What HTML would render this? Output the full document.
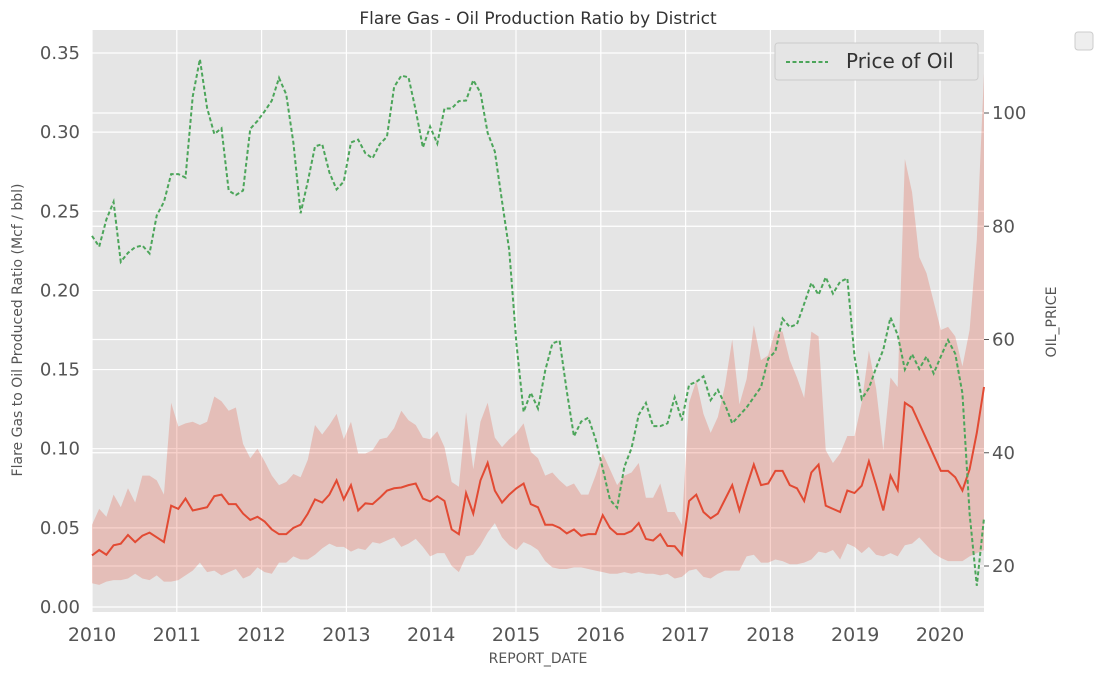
<!DOCTYPE html>
<html><head><meta charset="utf-8"><style>
body{margin:0;background:#fff;}
svg{display:block;font-family:"DejaVu Sans","Liberation Sans",sans-serif;}
</style></head><body>
<svg id="chart" width="1101" height="677"></svg>
<script>
const months = 125;
const yearTicks = ["2010","2011","2012","2013","2014","2015","2016","2017","2018","2019","2020"];
const leftTicks = [0,0.05,0.10,0.15,0.20,0.25,0.30,0.35];
const leftTickLabels = ["0.00","0.05","0.10","0.15","0.20","0.25","0.30","0.35"];
const rightTicks = [20,40,60,80,100];
const ratioMean = [.0326,.036,.033,.039,.040,.0455,.041,.045,.047,.044,.041,.064,
.062,.0685,.061,.062,.063,.070,.071,.065,.065,.059,.055,.057,
.054,.049,.046,.046,.050,.052,.059,.068,.066,.071,.080,.068,
.077,.061,.0655,.065,.069,.0735,.075,.0755,.077,.078,.0685,.0667,
.070,.067,.049,.046,.072,.059,.080,.091,.0735,.066,.071,.075,
.078,.065,.063,.052,.052,.050,.0465,.049,.045,.046,.046,.058,
.050,.046,.046,.048,.053,.043,.042,.046,.0386,.0384,.033,.067,
.071,.060,.056,.059,.068,.077,.061,.076,.090,.077,.078,.086,
.086,.077,.075,.067,.085,.090,.064,.062,.060,.0736,.072,.0766,
.092,.077,.061,.083,.074,.129,.126,.116,.106,.096,.086,.086,
.082,.0736,.087,.110,.139];
const ratioUpper = [.052,.062,.057,.071,.063,.075,.066,.083,.083,.080,.071,.129,
.114,.116,.117,.115,.117,.133,.130,.124,.126,.103,.094,.100,
.092,.083,.077,.079,.084,.082,.093,.115,.109,.115,.122,.106,
.117,.097,.097,.099,.106,.107,.113,.124,.118,.115,.107,.106,
.111,.101,.079,.076,.123,.087,.117,.129,.107,.101,.106,.110,
.116,.098,.094,.083,.085,.080,.076,.078,.071,.071,.083,.097,
.087,.077,.083,.085,.091,.069,.069,.078,.060,.060,.052,.129,
.143,.122,.110,.120,.140,.169,.128,.144,.178,.156,.159,.175,
.174,.156,.145,.132,.174,.171,.099,.091,.097,.108,.108,.129,
.162,.138,.099,.145,.139,.283,.262,.221,.211,.193,.175,.177,
.171,.152,.175,.232,.337];
const ratioLower = [.015,.014,.016,.017,.017,.018,.021,.018,.017,.020,.016,.016,
.017,.020,.023,.028,.022,.023,.020,.022,.024,.018,.020,.025,
.022,.021,.028,.028,.032,.030,.030,.033,.037,.040,.038,.038,
.035,.037,.036,.041,.040,.042,.044,.038,.040,.043,.038,.032,
.034,.034,.026,.022,.032,.033,.039,.047,.053,.044,.039,.036,
.041,.039,.036,.029,.025,.024,.024,.025,.025,.024,.023,.022,
.021,.021,.022,.021,.022,.021,.021,.020,.021,.018,.019,.023,
.024,.019,.018,.021,.023,.023,.023,.032,.033,.028,.028,.030,
.029,.027,.027,.028,.030,.035,.034,.036,.030,.040,.038,.034,
.038,.033,.032,.034,.032,.039,.040,.044,.039,.034,.031,.029,
.029,.029,.032,.034,.036];
const oilPrice = [78.3,76.4,81.2,84.3,73.7,75.3,76.3,76.6,75.2,81.9,84.3,89.2,
89.2,88.6,102.9,109.5,100.9,96.3,97.3,86.3,85.5,86.3,97.2,98.6,
100.3,102.2,106.2,103.3,94.7,82.3,87.9,94.1,94.5,89.5,86.5,87.9,
94.8,95.3,92.9,92.0,94.5,95.8,104.6,106.6,106.3,100.5,93.9,97.6,
94.6,100.8,100.8,102.1,102.2,105.8,103.6,96.5,93.2,84.4,75.8,59.3,
47.2,50.6,47.8,54.5,59.3,59.8,50.9,42.9,45.5,46.2,42.4,37.2,
31.7,30.3,37.5,40.8,46.7,48.8,44.7,44.7,45.2,49.8,45.7,52.0,
52.5,53.5,49.3,51.1,48.5,45.2,46.6,48.0,49.8,51.6,56.6,57.9,
63.7,62.2,62.7,66.3,70.0,67.9,71.0,68.1,70.2,70.8,57.0,49.5,
51.4,55.0,58.2,63.9,60.8,54.7,57.4,54.8,57.0,54.0,57.0,59.9,
57.5,50.5,29.2,16.5,28.5];

const PL=92,PR=984,PT=30,PB=612;
const xIdx = i => PL + i*(PR-PL)/(ratioMean.length-1);
const xYear = k => PL + k*84.8;
const yL = v => 607 - v*1582.9;
const yR = p => 566 - (p-20)*5.6625;
const NS="http://www.w3.org/2000/svg";
const svg=document.getElementById('chart');
function mk(tag,attrs,parent){const e=document.createElementNS(NS,tag);for(const k in attrs)e.setAttribute(k,attrs[k]);(parent||svg).appendChild(e);return e;}

let bg=mk('rect',{x:PL,y:PT,width:PR-PL,height:PB-PT,fill:'#e5e5e5'});



yearTicks.forEach((t,k)=>{const l=mk('line',{x1:xYear(k),x2:xYear(k),y1:PT,y2:PB,stroke:'#fff','stroke-width':1.2});

});
leftTicks.forEach(v=>{const l=mk('line',{x1:PL,x2:PR,y1:yL(v),y2:yL(v),stroke:'#fff','stroke-width':1.2});

});
rightTicks.forEach(v=>{const l=mk('line',{x1:PL,x2:PR,y1:yR(v),y2:yR(v),stroke:'#fff','stroke-width':1.2});

});

let d='M'+ratioUpper.map((v,i)=>xIdx(i)+','+yL(v)).join('L');
for(let i=ratioLower.length-1;i>=0;i--) d+='L'+xIdx(i)+','+yL(ratioLower[i]);
d+='Z';
let band=mk('path',{d:d,fill:'rgba(226,74,51,0.25)'});



let ml=mk('path',{d:'M'+ratioMean.map((v,i)=>xIdx(i)+','+yL(v)).join('L'),fill:'none',stroke:'#e24a33','stroke-width':2});



let ol=mk('path',{d:'M'+oilPrice.map((v,i)=>xIdx(i)+','+yR(v)).join('L'),fill:'none',stroke:'#4ca55a','stroke-width':2,'stroke-dasharray':'4,2.5'});



yearTicks.forEach((t,k)=>{const e=mk('text',{x:xYear(k),y:641,'text-anchor':'middle','font-size':19,fill:'#555'});e.textContent=t;

});
leftTicks.forEach((v,i)=>{const e=mk('text',{x:80,y:yL(v)+6,'text-anchor':'end','font-size':18,fill:'#555'});e.textContent=leftTickLabels[i];

});
rightTicks.forEach(v=>{mk('line',{x1:PR,x2:PR+5,y1:yR(v),y2:yR(v),stroke:'#555'});
const e=mk('text',{x:992,y:yR(v)+6,'font-size':18,fill:'#555'});e.textContent=String(v);

});
</script>
<script>
(function(){
const svg=document.getElementById('chart');const NS="http://www.w3.org/2000/svg";
function t(txt,a,name){const e=document.createElementNS(NS,'text');for(const k in a)e.setAttribute(k,a[k]);e.textContent=txt;


svg.appendChild(e);return e;}
t('Flare Gas - Oil Production Ratio by District',{x:538,y:24,'text-anchor':'middle','font-size':17,fill:'#333'},'chart-title');
t('REPORT_DATE',{x:538,y:663,'text-anchor':'middle','font-size':14,fill:'#555'},'x-axis-title');
t('Flare Gas to Oil Produced Ratio (Mcf / bbl)',{x:22,y:330,'text-anchor':'middle','font-size':14,fill:'#555',transform:'rotate(-90 22 330)'},'left-y-axis-title');
t('OIL_PRICE',{x:1056,y:322,'text-anchor':'middle','font-size':14,fill:'#555',transform:'rotate(-90 1056 322)'},'right-y-axis-title');
const g=document.createElementNS(NS,'g');


svg.appendChild(g);
g.innerHTML='<rect x="775" y="43" width="203" height="37" rx="3" fill="#e5e5e5" stroke="#ccc"/><line x1="786" x2="828" y1="62" y2="62" stroke="#4ca55a" stroke-width="2" stroke-dasharray="4,2.5"/><text x="846" y="68" font-size="20" fill="#333">Price of Oil</text>';
const g2=document.createElementNS(NS,'rect');
g2.setAttribute('x','1075');g2.setAttribute('y','32');g2.setAttribute('width','18');g2.setAttribute('height','18');g2.setAttribute('rx','3');g2.setAttribute('fill','#eee');g2.setAttribute('stroke','#ccc');


svg.appendChild(g2);
})();
</script>
</body></html>
